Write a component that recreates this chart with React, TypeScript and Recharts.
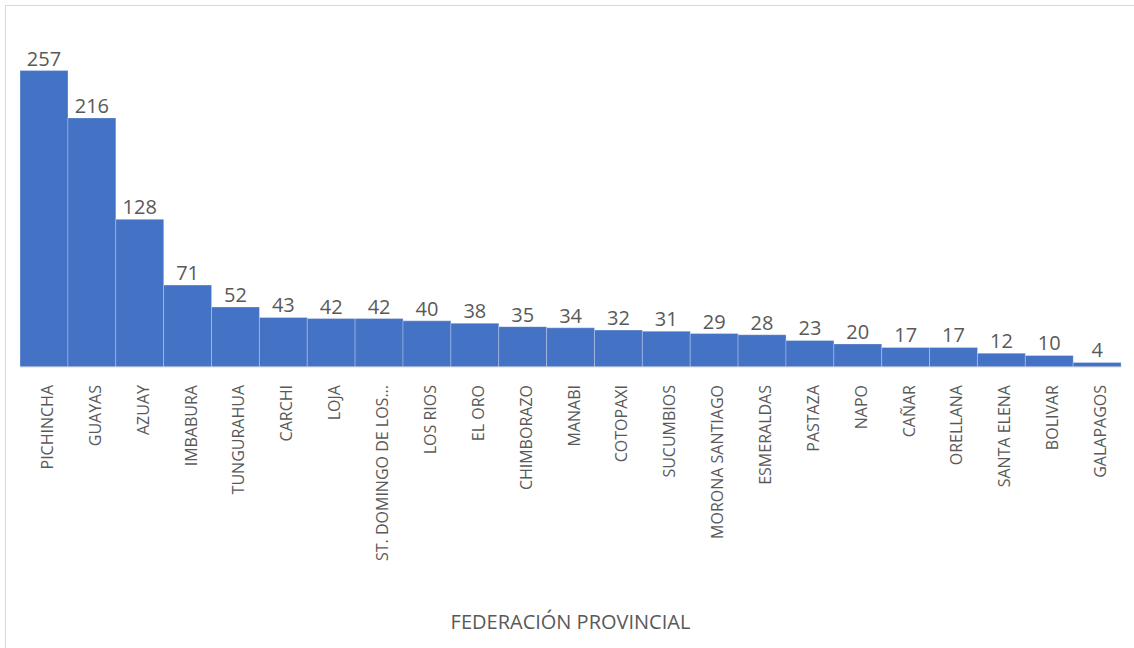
import React from 'react';
import { BarChart, Bar, XAxis, YAxis, LabelList, Label } from 'recharts';

const categories = [
  'PICHINCHA', 'GUAYAS', 'AZUAY', 'IMBABURA', 'TUNGURAHUA', 'CARCHI', 'LOJA',
  'ST. DOMINGO DE LOS...', 'LOS RIOS', 'EL ORO', 'CHIMBORAZO', 'MANABI', 'COTOPAXI',
  'SUCUMBIOS', 'MORONA SANTIAGO', 'ESMERALDAS', 'PASTAZA', 'NAPO', 'CAÑAR',
  'ORELLANA', 'SANTA ELENA', 'BOLIVAR', 'GALAPAGOS',
];
const values = [257, 216, 128, 71, 52, 43, 42, 42, 40, 38, 35, 34, 32, 31, 29, 28, 23, 20, 17, 17, 12, 10, 4];
const axisTitle = 'FEDERACIÓN PROVINCIAL';

const data = categories.map((name, i) => ({ name, value: values[i] }));

const FONT = '"Open Sans", sans-serif';
const TEXT = '#595959';

const Tick = (props: any) => {
  const { x, y, payload } = props;
  const tx = x + 9;
  const ty = y + 18;
  return (
    <text
      x={tx}
      y={ty}
      transform={`rotate(-90, ${tx}, ${ty})`}
      textAnchor="end"
      fill={TEXT}
      fontSize={16}
      fontFamily={FONT}
    >
      {payload.value}
    </text>
  );
};

export default function App() {
  return (
    <div style={{ position: 'absolute', left: 0, top: 0, width: 1134, height: 648, background: '#fff' }}>
      <div
        style={{
          position: 'absolute',
          left: 5,
          top: 5,
          width: 1140,
          height: 660,
          borderLeft: '1px solid #d9d9d9',
          borderTop: '1px solid #d9d9d9',
        }}
      />
      <div style={{ position: 'absolute', left: 0, top: 0 }}>
        <BarChart
          width={1134}
          height={648}
          data={data}
          margin={{ top: 21, right: 13, bottom: 0, left: 20 }}
          barCategoryGap={0}
        >
          <YAxis hide domain={[0, 300]} />
          <XAxis
            dataKey="name"
            interval={0}
            tickLine={false}
            tickSize={0}
            tickMargin={0}
            axisLine={{ stroke: '#d9d9d9', strokeWidth: 1 }}
            height={281}
            tick={<Tick />}
          >
            <Label
              value={axisTitle}
              position="insideBottom"
              offset={19}
              fill={TEXT}
              fontSize={20}
              fontFamily={FONT}
            />
          </XAxis>
          <Bar dataKey="value" fill="#4472C4" stroke="#ffffff" strokeOpacity={0.3} strokeWidth={1} isAnimationActive={false}>
            <LabelList dataKey="value" position="top" offset={5} fill={TEXT} fontSize={20} fontFamily={FONT} />
          </Bar>
        </BarChart>
      </div>
    </div>
  );
}
